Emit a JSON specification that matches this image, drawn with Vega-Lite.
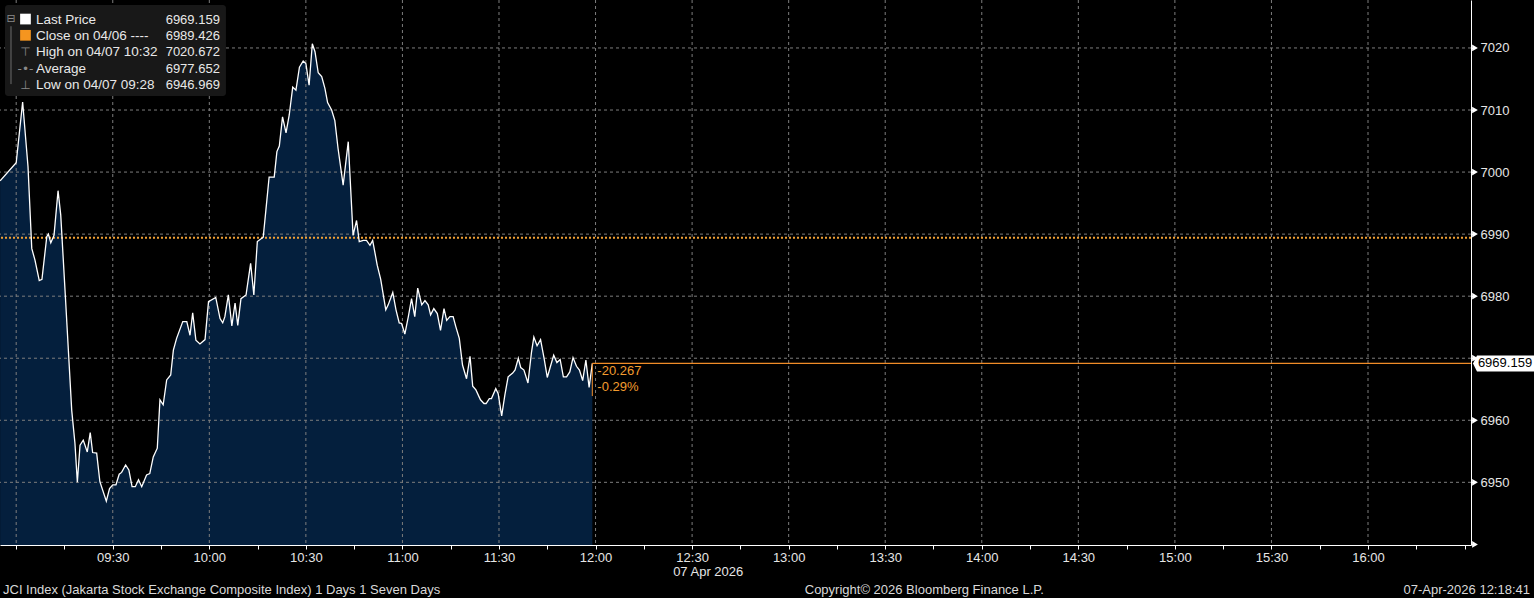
{
  "$schema": "https://vega.github.io/schema/vega-lite/v6.json",
  "width": 1471,
  "height": 545,
  "autosize": {"type": "none"},
  "padding": {"left": 0, "top": 0, "right": 63, "bottom": 53},
  "background": "#000000",
  "data": {"values": [{}]},
  "config": {
    "view": {"stroke": null},
    "axis": {"title": null, "grid": false, "domainColor": "#ffffff", "tickColor": "#ffffff", "labelColor": "#e6e6e6", "labelFont": "Liberation Sans", "labelFontSize": 13},
    "text": {"font": "Liberation Sans", "fontSize": 13}
  },
  "datasets": {
    "px": [
      {"t": "2026-04-07T08:55:00", "p": 6998.6},
      {"t": "2026-04-07T09:00:00", "p": 7001.5},
      {"t": "2026-04-07T09:02:00", "p": 7011.3},
      {"t": "2026-04-07T09:03:40", "p": 7000.9},
      {"t": "2026-04-07T09:04:50", "p": 6987.7},
      {"t": "2026-04-07T09:05:50", "p": 6985.8},
      {"t": "2026-04-07T09:07:10", "p": 6982.5},
      {"t": "2026-04-07T09:08:00", "p": 6982.7},
      {"t": "2026-04-07T09:09:30", "p": 6989.6},
      {"t": "2026-04-07T09:10:00", "p": 6990.0},
      {"t": "2026-04-07T09:10:45", "p": 6988.6},
      {"t": "2026-04-07T09:11:45", "p": 6989.8},
      {"t": "2026-04-07T09:13:00", "p": 6997.0},
      {"t": "2026-04-07T09:13:50", "p": 6993.1},
      {"t": "2026-04-07T09:15:10", "p": 6981.0},
      {"t": "2026-04-07T09:17:15", "p": 6961.6},
      {"t": "2026-04-07T09:18:15", "p": 6956.3},
      {"t": "2026-04-07T09:19:00", "p": 6950.0},
      {"t": "2026-04-07T09:19:50", "p": 6956.0},
      {"t": "2026-04-07T09:20:50", "p": 6956.8},
      {"t": "2026-04-07T09:22:05", "p": 6954.9},
      {"t": "2026-04-07T09:23:00", "p": 6958.0},
      {"t": "2026-04-07T09:23:45", "p": 6954.8},
      {"t": "2026-04-07T09:25:00", "p": 6954.7},
      {"t": "2026-04-07T09:26:00", "p": 6950.1},
      {"t": "2026-04-07T09:28:00", "p": 6946.969},
      {"t": "2026-04-07T09:29:00", "p": 6949.0},
      {"t": "2026-04-07T09:30:00", "p": 6949.6},
      {"t": "2026-04-07T09:31:00", "p": 6949.6},
      {"t": "2026-04-07T09:32:00", "p": 6951.3},
      {"t": "2026-04-07T09:32:45", "p": 6951.6},
      {"t": "2026-04-07T09:34:00", "p": 6952.8},
      {"t": "2026-04-07T09:35:00", "p": 6952.0},
      {"t": "2026-04-07T09:36:00", "p": 6949.3},
      {"t": "2026-04-07T09:37:00", "p": 6949.3},
      {"t": "2026-04-07T09:38:00", "p": 6950.4},
      {"t": "2026-04-07T09:39:00", "p": 6949.3},
      {"t": "2026-04-07T09:40:30", "p": 6951.2},
      {"t": "2026-04-07T09:41:30", "p": 6951.4},
      {"t": "2026-04-07T09:42:35", "p": 6954.1},
      {"t": "2026-04-07T09:43:50", "p": 6955.5},
      {"t": "2026-04-07T09:44:40", "p": 6963.3},
      {"t": "2026-04-07T09:45:40", "p": 6962.5},
      {"t": "2026-04-07T09:46:45", "p": 6966.5},
      {"t": "2026-04-07T09:48:00", "p": 6967.3},
      {"t": "2026-04-07T09:48:50", "p": 6971.3},
      {"t": "2026-04-07T09:49:50", "p": 6973.2},
      {"t": "2026-04-07T09:51:45", "p": 6975.9},
      {"t": "2026-04-07T09:53:00", "p": 6975.9},
      {"t": "2026-04-07T09:54:00", "p": 6973.7},
      {"t": "2026-04-07T09:54:50", "p": 6977.3},
      {"t": "2026-04-07T09:55:50", "p": 6972.9},
      {"t": "2026-04-07T09:57:05", "p": 6972.3},
      {"t": "2026-04-07T09:58:40", "p": 6973.0},
      {"t": "2026-04-07T09:59:45", "p": 6979.1},
      {"t": "2026-04-07T10:02:00", "p": 6979.8},
      {"t": "2026-04-07T10:03:20", "p": 6976.4},
      {"t": "2026-04-07T10:04:10", "p": 6975.7},
      {"t": "2026-04-07T10:04:50", "p": 6976.7},
      {"t": "2026-04-07T10:05:55", "p": 6980.2},
      {"t": "2026-04-07T10:07:00", "p": 6975.2},
      {"t": "2026-04-07T10:08:00", "p": 6978.9},
      {"t": "2026-04-07T10:08:50", "p": 6975.3},
      {"t": "2026-04-07T10:09:50", "p": 6979.6},
      {"t": "2026-04-07T10:11:25", "p": 6980.2},
      {"t": "2026-04-07T10:12:50", "p": 6985.3},
      {"t": "2026-04-07T10:13:50", "p": 6980.2},
      {"t": "2026-04-07T10:14:55", "p": 6988.8},
      {"t": "2026-04-07T10:16:45", "p": 6989.5},
      {"t": "2026-04-07T10:17:35", "p": 6993.9},
      {"t": "2026-04-07T10:18:35", "p": 6999.2},
      {"t": "2026-04-07T10:20:10", "p": 6999.2},
      {"t": "2026-04-07T10:21:00", "p": 7003.3},
      {"t": "2026-04-07T10:21:45", "p": 7004.2},
      {"t": "2026-04-07T10:22:45", "p": 7008.9},
      {"t": "2026-04-07T10:23:50", "p": 7006.3},
      {"t": "2026-04-07T10:24:50", "p": 7009.2},
      {"t": "2026-04-07T10:25:55", "p": 7013.7},
      {"t": "2026-04-07T10:26:55", "p": 7013.2},
      {"t": "2026-04-07T10:28:00", "p": 7016.9},
      {"t": "2026-04-07T10:29:10", "p": 7017.9},
      {"t": "2026-04-07T10:30:00", "p": 7017.5},
      {"t": "2026-04-07T10:31:00", "p": 7014.0},
      {"t": "2026-04-07T10:32:00", "p": 7020.672},
      {"t": "2026-04-07T10:32:50", "p": 7019.4},
      {"t": "2026-04-07T10:33:50", "p": 7016.0},
      {"t": "2026-04-07T10:34:55", "p": 7015.4},
      {"t": "2026-04-07T10:35:55", "p": 7013.5},
      {"t": "2026-04-07T10:36:45", "p": 7011.2},
      {"t": "2026-04-07T10:38:00", "p": 7010.0},
      {"t": "2026-04-07T10:39:00", "p": 7008.3},
      {"t": "2026-04-07T10:40:00", "p": 7003.8},
      {"t": "2026-04-07T10:41:35", "p": 6997.9},
      {"t": "2026-04-07T10:43:10", "p": 7004.9},
      {"t": "2026-04-07T10:44:40", "p": 6989.8},
      {"t": "2026-04-07T10:45:45", "p": 6992.2},
      {"t": "2026-04-07T10:46:35", "p": 6988.8},
      {"t": "2026-04-07T10:47:50", "p": 6989.0},
      {"t": "2026-04-07T10:48:50", "p": 6989.0},
      {"t": "2026-04-07T10:49:55", "p": 6988.2},
      {"t": "2026-04-07T10:50:45", "p": 6989.0},
      {"t": "2026-04-07T10:52:10", "p": 6985.0},
      {"t": "2026-04-07T10:53:15", "p": 6982.7},
      {"t": "2026-04-07T10:54:50", "p": 6977.8},
      {"t": "2026-04-07T10:55:35", "p": 6978.6},
      {"t": "2026-04-07T10:57:00", "p": 6980.6},
      {"t": "2026-04-07T10:58:00", "p": 6977.8},
      {"t": "2026-04-07T10:59:00", "p": 6975.7},
      {"t": "2026-04-07T10:59:45", "p": 6975.6},
      {"t": "2026-04-07T11:00:45", "p": 6973.9},
      {"t": "2026-04-07T11:01:50", "p": 6976.7},
      {"t": "2026-04-07T11:02:50", "p": 6979.6},
      {"t": "2026-04-07T11:03:50", "p": 6976.7},
      {"t": "2026-04-07T11:04:45", "p": 6981.3},
      {"t": "2026-04-07T11:06:00", "p": 6978.6},
      {"t": "2026-04-07T11:07:00", "p": 6979.3},
      {"t": "2026-04-07T11:08:00", "p": 6978.6},
      {"t": "2026-04-07T11:08:45", "p": 6977.0},
      {"t": "2026-04-07T11:09:45", "p": 6978.0},
      {"t": "2026-04-07T11:10:50", "p": 6977.2},
      {"t": "2026-04-07T11:11:50", "p": 6974.5},
      {"t": "2026-04-07T11:12:55", "p": 6978.0},
      {"t": "2026-04-07T11:13:45", "p": 6976.1},
      {"t": "2026-04-07T11:14:45", "p": 6976.7},
      {"t": "2026-04-07T11:15:45", "p": 6976.7},
      {"t": "2026-04-07T11:16:35", "p": 6975.1},
      {"t": "2026-04-07T11:17:40", "p": 6973.2},
      {"t": "2026-04-07T11:18:40", "p": 6968.9},
      {"t": "2026-04-07T11:19:55", "p": 6966.7},
      {"t": "2026-04-07T11:21:00", "p": 6970.3},
      {"t": "2026-04-07T11:21:50", "p": 6965.5},
      {"t": "2026-04-07T11:22:50", "p": 6964.9},
      {"t": "2026-04-07T11:24:15", "p": 6963.3},
      {"t": "2026-04-07T11:25:20", "p": 6962.7},
      {"t": "2026-04-07T11:26:00", "p": 6962.7},
      {"t": "2026-04-07T11:27:00", "p": 6963.5},
      {"t": "2026-04-07T11:27:40", "p": 6963.5},
      {"t": "2026-04-07T11:29:00", "p": 6965.1},
      {"t": "2026-04-07T11:29:45", "p": 6964.3},
      {"t": "2026-04-07T11:30:50", "p": 6960.7},
      {"t": "2026-04-07T11:31:50", "p": 6964.1},
      {"t": "2026-04-07T11:32:50", "p": 6967.0},
      {"t": "2026-04-07T11:34:15", "p": 6967.6},
      {"t": "2026-04-07T11:35:00", "p": 6968.1},
      {"t": "2026-04-07T11:36:00", "p": 6970.0},
      {"t": "2026-04-07T11:36:45", "p": 6968.5},
      {"t": "2026-04-07T11:37:45", "p": 6968.1},
      {"t": "2026-04-07T11:39:00", "p": 6966.0},
      {"t": "2026-04-07T11:40:05", "p": 6970.9},
      {"t": "2026-04-07T11:40:50", "p": 6973.4},
      {"t": "2026-04-07T11:41:50", "p": 6972.0},
      {"t": "2026-04-07T11:42:55", "p": 6973.0},
      {"t": "2026-04-07T11:44:00", "p": 6970.0},
      {"t": "2026-04-07T11:45:00", "p": 6966.9},
      {"t": "2026-04-07T11:46:00", "p": 6968.7},
      {"t": "2026-04-07T11:47:00", "p": 6970.5},
      {"t": "2026-04-07T11:48:00", "p": 6969.3},
      {"t": "2026-04-07T11:49:00", "p": 6969.8},
      {"t": "2026-04-07T11:50:00", "p": 6967.0},
      {"t": "2026-04-07T11:51:00", "p": 6967.0},
      {"t": "2026-04-07T11:52:00", "p": 6967.8},
      {"t": "2026-04-07T11:53:00", "p": 6970.1},
      {"t": "2026-04-07T11:54:05", "p": 6968.7},
      {"t": "2026-04-07T11:55:00", "p": 6968.1},
      {"t": "2026-04-07T11:56:00", "p": 6966.4},
      {"t": "2026-04-07T11:57:00", "p": 6969.7},
      {"t": "2026-04-07T11:58:00", "p": 6965.3},
      {"t": "2026-04-07T11:59:00", "p": 6969.159}
    ],
    "gy": [{"v": 6950}, {"v": 6960}, {"v": 6970}, {"v": 6980}, {"v": 6990}, {"v": 7000}, {"v": 7010}, {"v": 7020}],
    "yt": [{"v": 6940}, {"v": 6950}, {"v": 6960}, {"v": 6970}, {"v": 6980}, {"v": 6990}, {"v": 7000}, {"v": 7010}, {"v": 7020}],
    "gx": [
      {"t": "2026-04-07T09:00:00"}, {"t": "2026-04-07T09:30:00"}, {"t": "2026-04-07T10:00:00"}, {"t": "2026-04-07T10:30:00"},
      {"t": "2026-04-07T11:00:00"}, {"t": "2026-04-07T11:30:00"}, {"t": "2026-04-07T12:00:00"}, {"t": "2026-04-07T12:30:00"},
      {"t": "2026-04-07T13:00:00"}, {"t": "2026-04-07T13:30:00"}, {"t": "2026-04-07T14:00:00"}, {"t": "2026-04-07T14:30:00"},
      {"t": "2026-04-07T15:00:00"}, {"t": "2026-04-07T15:30:00"}, {"t": "2026-04-07T16:00:00"}
    ]
  },
  "layer": [
    {
      "data": {"name": "px"},
      "mark": {"type": "area", "color": "#041f3d"},
      "encoding": {
        "x": {
          "field": "t", "type": "temporal",
          "scale": {"type": "time", "domain": [{"year": 2026, "month": 4, "date": 7, "hours": 8, "minutes": 54, "seconds": 58}, {"year": 2026, "month": 4, "date": 7, "hours": 16, "minutes": 32, "seconds": 0}]},
          "axis": {
            "orient": "bottom",
            "values": [
              {"year": 2026, "month": 4, "date": 7, "hours": 9, "minutes": 0}, {"year": 2026, "month": 4, "date": 7, "hours": 9, "minutes": 15},
              {"year": 2026, "month": 4, "date": 7, "hours": 9, "minutes": 30}, {"year": 2026, "month": 4, "date": 7, "hours": 9, "minutes": 45},
              {"year": 2026, "month": 4, "date": 7, "hours": 10, "minutes": 0}, {"year": 2026, "month": 4, "date": 7, "hours": 10, "minutes": 15},
              {"year": 2026, "month": 4, "date": 7, "hours": 10, "minutes": 30}, {"year": 2026, "month": 4, "date": 7, "hours": 10, "minutes": 45},
              {"year": 2026, "month": 4, "date": 7, "hours": 11, "minutes": 0}, {"year": 2026, "month": 4, "date": 7, "hours": 11, "minutes": 15},
              {"year": 2026, "month": 4, "date": 7, "hours": 11, "minutes": 30}, {"year": 2026, "month": 4, "date": 7, "hours": 11, "minutes": 45},
              {"year": 2026, "month": 4, "date": 7, "hours": 12, "minutes": 0}, {"year": 2026, "month": 4, "date": 7, "hours": 12, "minutes": 15},
              {"year": 2026, "month": 4, "date": 7, "hours": 12, "minutes": 30}, {"year": 2026, "month": 4, "date": 7, "hours": 12, "minutes": 45},
              {"year": 2026, "month": 4, "date": 7, "hours": 13, "minutes": 0}, {"year": 2026, "month": 4, "date": 7, "hours": 13, "minutes": 15},
              {"year": 2026, "month": 4, "date": 7, "hours": 13, "minutes": 30}, {"year": 2026, "month": 4, "date": 7, "hours": 13, "minutes": 45},
              {"year": 2026, "month": 4, "date": 7, "hours": 14, "minutes": 0}, {"year": 2026, "month": 4, "date": 7, "hours": 14, "minutes": 15},
              {"year": 2026, "month": 4, "date": 7, "hours": 14, "minutes": 30}, {"year": 2026, "month": 4, "date": 7, "hours": 14, "minutes": 45},
              {"year": 2026, "month": 4, "date": 7, "hours": 15, "minutes": 0}, {"year": 2026, "month": 4, "date": 7, "hours": 15, "minutes": 15},
              {"year": 2026, "month": 4, "date": 7, "hours": 15, "minutes": 30}, {"year": 2026, "month": 4, "date": 7, "hours": 15, "minutes": 45},
              {"year": 2026, "month": 4, "date": 7, "hours": 16, "minutes": 0}, {"year": 2026, "month": 4, "date": 7, "hours": 16, "minutes": 15},
              {"year": 2026, "month": 4, "date": 7, "hours": 16, "minutes": 30}
            ],
            "tickSize": 4,
            "labelPadding": 2,
            "labelOverlap": false,
            "labelFlush": false,
            "labelExpr": "(minutes(datum.value) % 30 != 0 || (hours(datum.value) == 9 && minutes(datum.value) == 0) || (hours(datum.value) == 16 && minutes(datum.value) == 30)) ? '' : timeFormat(datum.value, '%H:%M')"
          }
        },
        "y": {
          "field": "p", "type": "quantitative",
          "scale": {"domain": [6939.9, 7027.73], "zero": false, "nice": false},
          "axis": {
            "orient": "right",
            "values": [6940, 6945, 6950, 6955, 6960, 6965, 6970, 6975, 6980, 6985, 6990, 6995, 7000, 7005, 7010, 7015, 7020, 7025],
            "format": "d",
            "tickSize": 4,
            "labelPadding": 5,
            "labelExpr": "(datum.value % 10 == 0 && datum.value > 6945 && datum.value != 6970) ? datum.label : ''"
          }
        },
        "y2": {"datum": 6939.9}
      }
    },
    {
      "data": {"name": "gy"},
      "mark": {"type": "rule", "color": "#7d7d7d", "strokeWidth": 1, "strokeDash": [3, 3]},
      "encoding": {"y": {"field": "v", "type": "quantitative"}}
    },
    {
      "data": {"name": "gx"},
      "mark": {"type": "rule", "color": "#7d7d7d", "strokeWidth": 1, "strokeDash": [3, 3]},
      "encoding": {"x": {"field": "t", "type": "temporal"}}
    },
    {
      "mark": {"type": "rule", "color": "#f0a035", "strokeWidth": 2, "strokeDash": [2, 2]},
      "encoding": {"y": {"datum": 6989.426, "type": "quantitative"}}
    },
    {
      "data": {"name": "px"},
      "mark": {"type": "line", "color": "#ffffff", "strokeWidth": 1.3},
      "encoding": {
        "x": {"field": "t", "type": "temporal"},
        "y": {"field": "p", "type": "quantitative"}
      }
    },
    {
      "mark": {"type": "rule", "color": "#f08c28", "strokeWidth": 1.2},
      "encoding": {
        "x": {"datum": {"year": 2026, "month": 4, "date": 7, "hours": 11, "minutes": 59, "seconds": 0}, "type": "temporal"},
        "x2": {"datum": {"year": 2026, "month": 4, "date": 7, "hours": 16, "minutes": 32, "seconds": 0}},
        "y": {"datum": 6969.159, "type": "quantitative"}
      }
    },
    {
      "mark": {"type": "rule", "color": "#f08c28", "strokeWidth": 1},
      "encoding": {
        "x": {"datum": {"year": 2026, "month": 4, "date": 7, "hours": 11, "minutes": 59, "seconds": 0}, "type": "temporal"},
        "y": {"datum": 6969.159, "type": "quantitative"},
        "y2": {"datum": 6963.9}
      }
    },
    {
      "mark": {"type": "text", "color": "#f39c2f", "align": "left", "baseline": "top", "dx": 5, "dy": 2, "fontSize": 13},
      "encoding": {
        "x": {"datum": {"year": 2026, "month": 4, "date": 7, "hours": 11, "minutes": 59, "seconds": 0}, "type": "temporal"},
        "y": {"datum": 6969.159, "type": "quantitative"},
        "text": {"value": "-20.267"}
      }
    },
    {
      "mark": {"type": "text", "color": "#f39c2f", "align": "left", "baseline": "top", "dx": 5, "dy": 18, "fontSize": 13},
      "encoding": {
        "x": {"datum": {"year": 2026, "month": 4, "date": 7, "hours": 11, "minutes": 59, "seconds": 0}, "type": "temporal"},
        "y": {"datum": 6969.159, "type": "quantitative"},
        "text": {"value": "-0.29%"}
      }
    },
    {
      "mark": {"type": "text", "color": "#e6e6e6", "align": "center", "baseline": "middle", "dy": 27, "fontSize": 13},
      "encoding": {
        "x": {"datum": {"year": 2026, "month": 4, "date": 7, "hours": 12, "minutes": 35, "seconds": 0}, "type": "temporal"},
        "y": {"datum": 6939.9, "type": "quantitative"},
        "text": {"value": "07 Apr 2026"}
      }
    },
    {
      "mark": {"type": "rect", "color": "#181818", "cornerRadius": 3},
      "encoding": {
        "x": {"datum": {"year": 2026, "month": 4, "date": 7, "hours": 8, "minutes": 56, "seconds": 31}, "type": "temporal"},
        "x2": {"datum": {"year": 2026, "month": 4, "date": 7, "hours": 10, "minutes": 5, "seconds": 10}},
        "y": {"datum": 7026.91, "type": "quantitative"},
        "y2": {"datum": 7012.25}
      }
    },
    {
      "mark": {"type": "rule", "color": "#6e6e6e", "strokeWidth": 1},
      "encoding": {
        "x": {"datum": {"year": 2026, "month": 4, "date": 7, "hours": 8, "minutes": 58, "seconds": 23}, "type": "temporal"},
        "y": {"datum": 7023.5, "type": "quantitative"},
        "y2": {"datum": 7014.18}
      }
    },
    {
      "mark": {"type": "text", "color": "#8a8a8a", "align": "center", "baseline": "middle", "fontSize": 11, "font": "DejaVu Sans"},
      "encoding": {
        "x": {"datum": {"year": 2026, "month": 4, "date": 7, "hours": 8, "minutes": 58, "seconds": 23}, "type": "temporal"},
        "y": {"datum": 7024.66, "type": "quantitative"},
        "text": {"value": "⊟"}
      }
    },
    {
      "mark": {"type": "point", "shape": "square", "filled": true, "size": 115, "color": "#ffffff", "opacity": 1},
      "encoding": {
        "x": {"datum": {"year": 2026, "month": 4, "date": 7, "hours": 9, "minutes": 2, "seconds": 53}, "type": "temporal"},
        "y": {"datum": 7024.66, "type": "quantitative"}
      }
    },
    {
      "mark": {"type": "point", "shape": "square", "filled": true, "size": 115, "color": "#f5951f", "opacity": 1},
      "encoding": {
        "x": {"datum": {"year": 2026, "month": 4, "date": 7, "hours": 9, "minutes": 2, "seconds": 53}, "type": "temporal"},
        "y": {"datum": 7022.04, "type": "quantitative"}
      }
    },
    {
      "mark": {"type": "text", "color": "#8a8a8a", "align": "center", "baseline": "alphabetic", "lineHeight": 16.25, "fontSize": 12, "font": "DejaVu Sans"},
      "encoding": {
        "x": {"datum": {"year": 2026, "month": 4, "date": 7, "hours": 9, "minutes": 2, "seconds": 53}, "type": "temporal"},
        "y": {"datum": 7018.66, "type": "quantitative"},
        "text": {"value": ["⊤", "-•-", "⊥"]}
      }
    },
    {
      "mark": {"type": "text", "color": "#e8e8e8", "align": "left", "baseline": "alphabetic", "lineHeight": 16.25, "fontSize": 13.5},
      "encoding": {
        "x": {"datum": {"year": 2026, "month": 4, "date": 7, "hours": 9, "minutes": 6, "seconds": 9}, "type": "temporal"},
        "y": {"datum": 7023.9, "type": "quantitative"},
        "text": {"value": ["Last Price", "Close on 04/06 ----", "High on 04/07 10:32", "Average", "Low on 04/07 09:28"]}
      }
    },
    {
      "mark": {"type": "text", "color": "#e8e8e8", "align": "right", "baseline": "alphabetic", "lineHeight": 16.25, "fontSize": 13},
      "encoding": {
        "x": {"datum": {"year": 2026, "month": 4, "date": 7, "hours": 10, "minutes": 3, "seconds": 17}, "type": "temporal"},
        "y": {"datum": 7023.9, "type": "quantitative"},
        "text": {"value": ["6969.159", "6989.426", "7020.672", "6977.652", "6946.969"]}
      }
    },
    {
      "data": {"name": "yt"},
      "mark": {"type": "point", "shape": "triangle-right", "filled": true, "size": 45, "color": "#ffffff", "opacity": 1, "xOffset": 4},
      "encoding": {
        "x": {"datum": {"year": 2026, "month": 4, "date": 7, "hours": 16, "minutes": 32, "seconds": 0}, "type": "temporal"},
        "y": {"field": "v", "type": "quantitative"}
      }
    },
    {
      "mark": {"type": "point", "shape": "M-1,0L-0.869,-0.262L1,-0.262L1,0.262L-0.869,0.262Z", "filled": true, "size": 3721, "color": "#ffffff", "opacity": 1, "xOffset": 32.5},
      "encoding": {
        "x": {"datum": {"year": 2026, "month": 4, "date": 7, "hours": 16, "minutes": 32, "seconds": 0}, "type": "temporal"},
        "y": {"datum": 6969.159, "type": "quantitative"}
      }
    },
    {
      "mark": {"type": "text", "color": "#000000", "align": "center", "baseline": "middle", "dx": 34, "fontSize": 13},
      "encoding": {
        "x": {"datum": {"year": 2026, "month": 4, "date": 7, "hours": 16, "minutes": 32, "seconds": 0}, "type": "temporal"},
        "y": {"datum": 6969.159, "type": "quantitative"},
        "text": {"value": "6969.159"}
      }
    },
    {
      "mark": {"type": "text", "color": "#d9d9d9", "align": "left", "baseline": "middle", "dx": 3, "dy": 45, "fontSize": 13},
      "encoding": {
        "x": {"datum": {"year": 2026, "month": 4, "date": 7, "hours": 8, "minutes": 54, "seconds": 58}, "type": "temporal"},
        "y": {"datum": 6939.9, "type": "quantitative"},
        "text": {"value": "JCI Index (Jakarta Stock Exchange Composite Index) 1 Days 1 Seven Days"}
      }
    },
    {
      "mark": {"type": "text", "color": "#d9d9d9", "align": "left", "baseline": "middle", "dy": 45, "fontSize": 13},
      "encoding": {
        "x": {"datum": {"year": 2026, "month": 4, "date": 7, "hours": 13, "minutes": 5, "seconds": 0}, "type": "temporal"},
        "y": {"datum": 6939.9, "type": "quantitative"},
        "text": {"value": "Copyright© 2026 Bloomberg Finance L.P."}
      }
    },
    {
      "mark": {"type": "text", "color": "#d9d9d9", "align": "right", "baseline": "middle", "dx": 59, "dy": 45, "fontSize": 13},
      "encoding": {
        "x": {"datum": {"year": 2026, "month": 4, "date": 7, "hours": 16, "minutes": 32, "seconds": 0}, "type": "temporal"},
        "y": {"datum": 6939.9, "type": "quantitative"},
        "text": {"value": "07-Apr-2026 12:18:41"}
      }
    }
  ]
}
